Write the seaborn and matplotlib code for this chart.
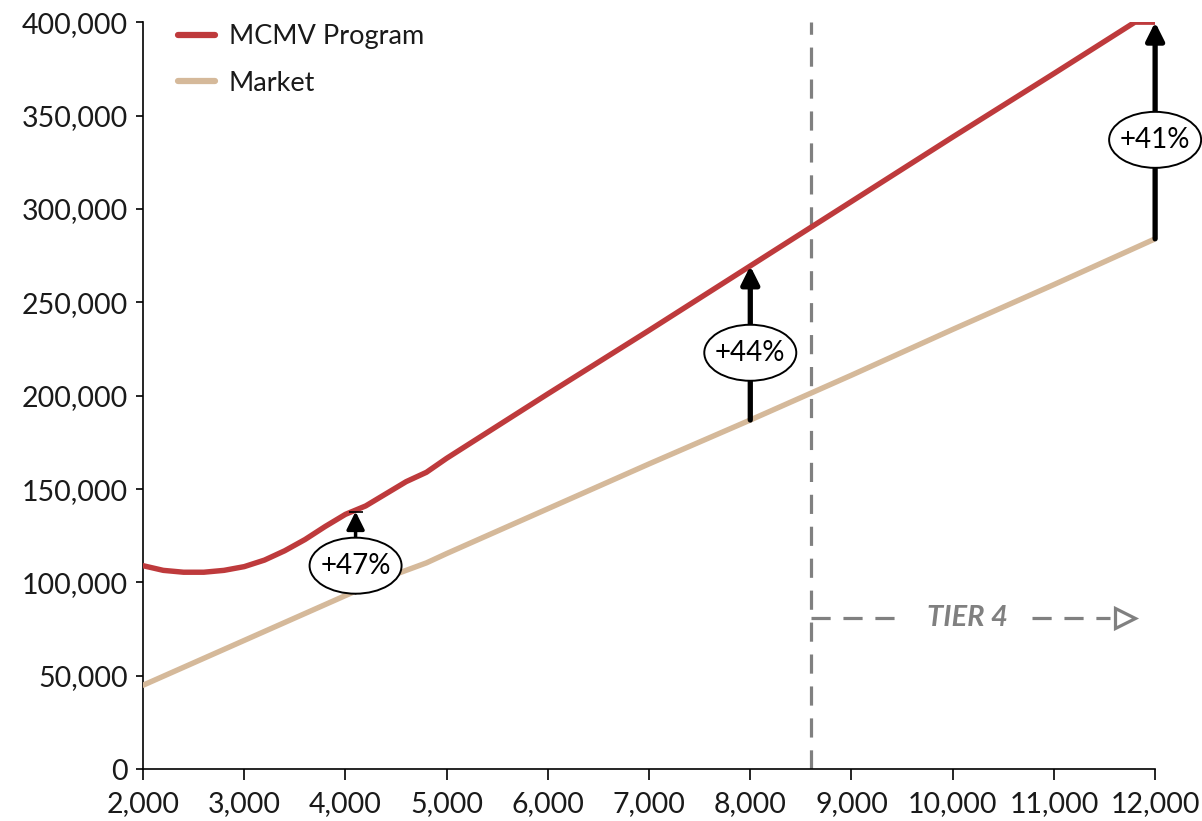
import matplotlib
matplotlib.use('Agg')
import matplotlib.pyplot as plt
import matplotlib.ticker as mticker
import matplotlib.transforms as mtransforms
from matplotlib.patches import Ellipse
import pandas as pd
import seaborn as sns

# data
mcmv_x = [2000, 2200, 2400, 2600, 2800, 3000, 3200, 3400, 3600, 3800, 4000, 4200,
          4400, 4600, 4800, 5000, 6000, 7000, 8000, 9000, 10000, 11000, 11800, 12000]
mcmv_y = [109000, 106500, 105500, 105500, 106500, 108500, 112000, 117000, 123000, 130000,
          136500, 141000, 147500, 154000, 159000, 166500, 201000, 235000, 269500, 304000,
          338500, 372500, 400000, 400000]

market_x = [2000, 3000, 4000, 4400, 4600, 4800, 5000, 6000, 7000, 8000, 9000, 10000, 11000, 12000]
market_y = [45000, 69000, 93000, 102500, 106500, 110500, 115500, 139500, 163500, 187000,
            211000, 235500, 259500, 284000]

gap_x = [4100, 8000, 12000]
gap_lo = [94500, 187000, 284000]
gap_hi = [138000, 269500, 400000]
gap_label_y = [109000, 223000, 337000]
gap_labels = ['+47%', '+44%', '+41%']

tier_x = 8600
tier_label = 'TIER 4'

RED = '#BE3A3C'
TAN = '#D5B99A'
GREY = '#808080'

sns.set_theme(style='ticks')
plt.rcParams['font.family'] = ['Lato', 'DejaVu Sans']

df = pd.concat([
    pd.DataFrame({'x': mcmv_x, 'y': mcmv_y, 'series': 'MCMV Program'}),
    pd.DataFrame({'x': market_x, 'y': market_y, 'series': 'Market'}),
])

fig = plt.figure(figsize=(12.02, 8.21), dpi=100)
ax = fig.add_axes([0.119, 0.063, 0.842, 0.91])

sns.lineplot(data=df, x='x', y='y', hue='series', palette=[RED, TAN],
             linewidth=3.9, ax=ax, sort=False, zorder=3)

# tier 4 threshold
dash = (0, (6, 4))
ax.axvline(tier_x, color=GREY, lw=2.3, ls=dash, zorder=2)
ax.plot([tier_x, 9480], [81000, 81000], color=GREY, lw=2.3, ls=dash, zorder=2)
ax.plot([10780, 11550], [81000, 81000], color=GREY, lw=2.3, ls=dash, zorder=2)
ax.plot([11700], [81000], marker='>', ms=15, mfc='white', mec=GREY, mew=2.3, zorder=3)
ax.text(10150, 81000, tier_label, color=GREY, fontsize=21, fontweight='bold',
        fontstyle='italic', ha='center', va='center', zorder=4)

# gap arrows with ellipse labels
for i, (gx, lo, hi, ly, lab) in enumerate(zip(gap_x, gap_lo, gap_hi, gap_label_y, gap_labels)):
    lw = 2.5 if i == 0 else 3.8
    ax.annotate('', xy=(gx, hi), xytext=(gx, lo),
                arrowprops=dict(arrowstyle='-|>,head_length=0.9,head_width=0.45',
                                color='black', lw=lw, shrinkA=0, shrinkB=0), zorder=5)
    if i == 0:
        ax.plot([gx, gx], [lo, hi], ls='none', marker='_', ms=10, color='black', mew=1.2, zorder=5)
    tr = fig.dpi_scale_trans + mtransforms.ScaledTranslation(gx, ly, ax.transData)
    ax.add_patch(Ellipse((0, 0), 0.92, 0.56, transform=tr, fc='white', ec='black',
                         lw=1.4, zorder=6, clip_on=False))
    ax.text(gx, ly, lab, fontsize=20, ha='center', va='center', color='black', zorder=7)

ax.set_xlim(2000, 12000)
ax.set_ylim(0, 400000)
ax.set_xticks(range(2000, 12001, 1000))
ax.set_yticks(range(0, 400001, 50000))
ax.xaxis.set_major_formatter(mticker.StrMethodFormatter('{x:,.0f}'))
ax.yaxis.set_major_formatter(mticker.StrMethodFormatter('{x:,.0f}'))
ax.tick_params(axis='both', labelsize=20.5, labelcolor='#1a1a1a', color='black',
               width=1.2, direction='out')
ax.tick_params(axis='x', length=8, pad=8)
ax.tick_params(axis='y', length=5, pad=6)
for side in ['left', 'bottom']:
    ax.spines[side].set_color('black')
    ax.spines[side].set_linewidth(1.2)
sns.despine(ax=ax)
ax.set_xlabel('')
ax.set_ylabel('')

leg = ax.legend(loc='upper left', bbox_to_anchor=(0.01, 1.03), frameon=False,
                prop={'size': 19.5}, handlelength=1.4,
                handletextpad=0.5, labelspacing=0.8)
for line in leg.get_lines():
    line.set_linewidth(4.5)
    line.set_solid_capstyle('round')
for t in leg.get_texts():
    t.set_color('#1a1a1a')

fig.savefig('out.png', dpi=100)
